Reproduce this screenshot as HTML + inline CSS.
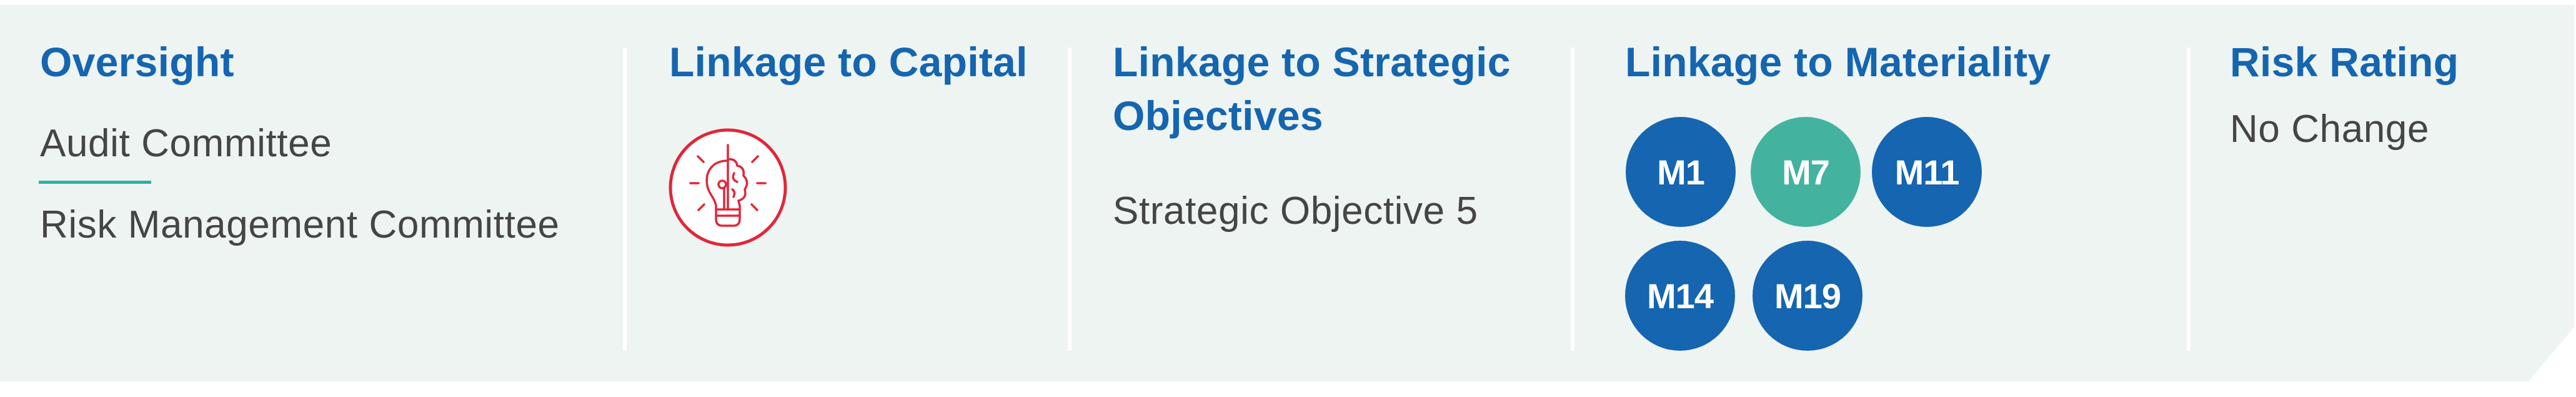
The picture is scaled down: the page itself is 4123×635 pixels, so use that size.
<!DOCTYPE html>
<html><head><meta charset="utf-8"><style>
html,body{margin:0;padding:0;background:#fff;}
body{width:4123px;height:635px;position:relative;overflow:hidden;font-family:"Liberation Sans",sans-serif;}
#panel{position:absolute;left:0;top:8px;width:4123px;height:602px;background:#edf4f2;clip-path:polygon(0 0,4120px 0,4120px 515px,4047px 602px,0 602px);}
.div{position:absolute;top:76px;width:6px;height:485px;background:#fff;}
.h{position:absolute;color:#1565b0;font-weight:bold;font-size:66px;line-height:86px;letter-spacing:0.3px;white-space:nowrap;}
.t{position:absolute;color:#454545;font-size:62px;line-height:70px;letter-spacing:0.6px;white-space:nowrap;}
.m{position:absolute;width:176px;height:176px;border-radius:50%;color:#fff;font-weight:bold;font-size:56px;display:flex;align-items:center;justify-content:center;letter-spacing:-1px;}
</style></head><body>
<div id="panel"></div>
<div class="div" style="left:997px"></div>
<div class="div" style="left:1709px"></div>
<div class="div" style="left:2514px"></div>
<div class="div" style="left:3500px"></div>

<div class="h" style="left:64px;top:56px">Oversight</div>
<div class="t" style="left:64px;top:195px">Audit Committee</div>
<div style="position:absolute;left:62px;top:289px;width:180px;height:5px;background:#2bb3a0"></div>
<div class="t" style="left:64px;top:325px">Risk Management Committee</div>

<div class="h" style="left:1071px;top:56px">Linkage to Capital</div>
<svg style="position:absolute;left:1060px;top:195px" width="210" height="210" viewBox="0 0 210 210">
<circle cx="105" cy="105" r="92" fill="#fff" stroke="#e0273a" stroke-width="5"/>
<g fill="none" stroke="#e0273a" stroke-width="3.5" stroke-linecap="round">
<line x1="105" y1="37" x2="105" y2="140"/>
<path d="M105 62 C80 62 68 80 72 102 C74 114 84 122 86 134 L86 155 Q86 166 96 166 L114 166 Q124 166 124 155 L124 134"/>
<path d="M105 60 Q118 58 120 70 Q132 72 130 86 Q140 96 132 108 Q136 122 122 126 L124 134"/>
<line x1="86" y1="140" x2="124" y2="140"/><line x1="86" y1="150" x2="124" y2="150"/>
<circle cx="96" cy="100" r="6"/><line x1="99" y1="106" x2="99" y2="138"/>
<path d="M115 82 Q110 92 120 96 M112 108 Q118 112 114 120"/>
<line x1="45" y1="98" x2="58" y2="98"/><line x1="152" y1="98" x2="165" y2="98"/>
<line x1="57" y1="55" x2="66" y2="64"/><line x1="153" y1="55" x2="144" y2="64"/>
<line x1="58" y1="141" x2="67" y2="132"/><line x1="152" y1="141" x2="143" y2="132"/>
</g></svg>

<div class="h" style="left:1781px;top:56px">Linkage to Strategic<br>Objectives</div>
<div class="t" style="left:1781px;top:303px">Strategic Objective 5</div>

<div class="h" style="left:2601px;top:56px">Linkage to Materiality</div>
<div class="m" style="left:2602px;top:187px;background:#1565b0">M1</div>
<div class="m" style="left:2802px;top:187px;background:#43b3a0">M7</div>
<div class="m" style="left:2996px;top:187px;background:#1565b0">M11</div>
<div class="m" style="left:2601px;top:385px;background:#1565b0">M14</div>
<div class="m" style="left:2805px;top:385px;background:#1565b0">M19</div>

<div class="h" style="left:3569px;top:56px">Risk Rating</div>
<div class="t" style="left:3569px;top:172px">No Change</div>
</body></html>
